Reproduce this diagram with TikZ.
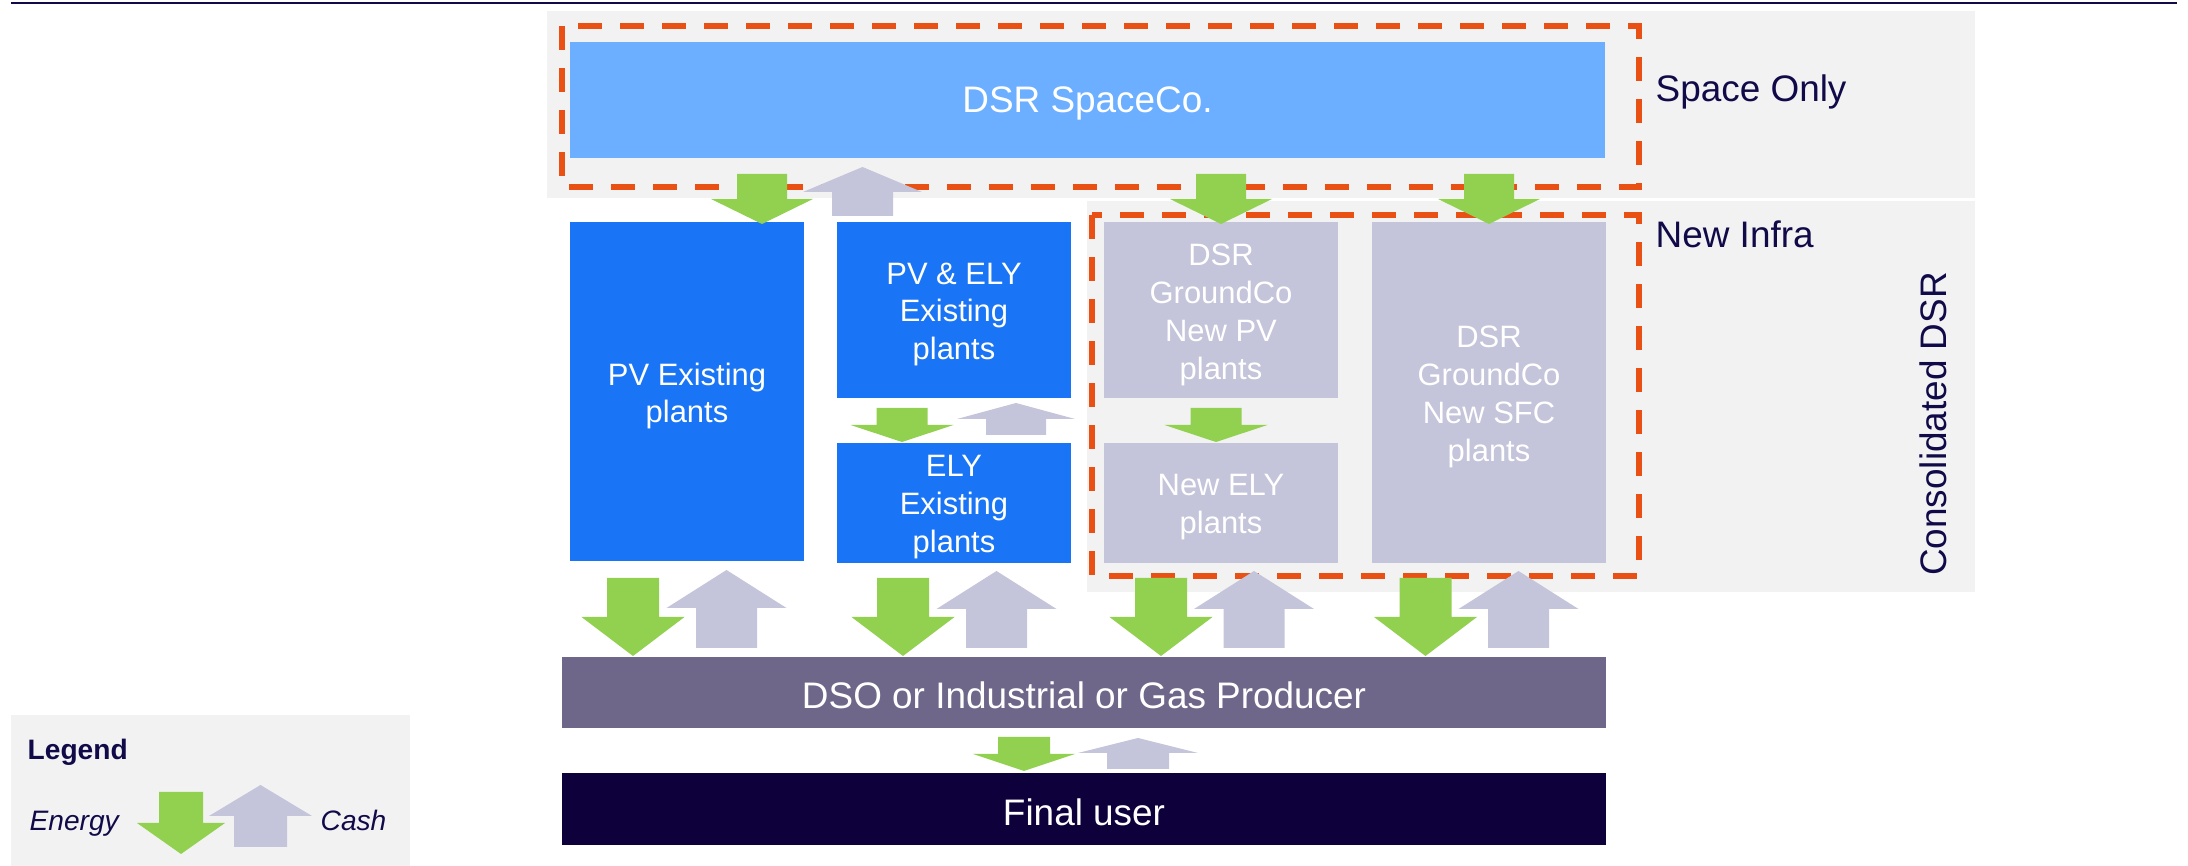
\documentclass[tikz,border=0pt]{standalone}
\usepackage{fontspec}
\setmainfont{Liberation Sans}
\definecolor{navy}{RGB}{16,10,72}
\definecolor{bandgray}{RGB}{242,242,242}
\definecolor{spaceblue}{RGB}{108,174,255}
\definecolor{plantblue}{RGB}{25,117,245}
\definecolor{lavender}{RGB}{196,196,218}
\definecolor{dsopurple}{RGB}{111,103,138}
\definecolor{finalnavy}{RGB}{14,0,58}
\definecolor{energygreen}{RGB}{146,208,80}
\definecolor{dashorange}{RGB}{232,80,20}

% block arrows: #1 x centre, #2 tail y, #3 tip y, #4 shaft half width, #5 head half width, #6 head length
\newcommand{\energyflow}[6]{%
  \fill[energygreen] (#1-#4,#2) -- (#1+#4,#2) -- (#1+#4,#3-#6) -- (#1+#5,#3-#6)
    -- (#1,#3) -- (#1-#5,#3-#6) -- (#1-#4,#3-#6) -- cycle;}
\newcommand{\cashflow}[6]{%
  \fill[lavender] (#1-#4,#2) -- (#1+#4,#2) -- (#1+#4,#3+#6) -- (#1+#5,#3+#6)
    -- (#1,#3) -- (#1-#5,#3+#6) -- (#1-#4,#3+#6) -- cycle;}

\begin{document}
\begin{tikzpicture}[x=0.1mm,y=-0.1mm,
  bigtext/.style={font=\fontsize{10.5}{12.6}\selectfont},
  boxtext/.style={font=\fontsize{8.8}{10.8}\selectfont},
  plantbox/.style={rectangle,inner sep=0pt,minimum width=23.4mm},
  planttext/.style={inner sep=0pt,text=white,align=center,boxtext,yshift=-0.45mm},
  widebox/.style={rectangle,inner sep=0pt},
  widetext/.style={inner sep=0pt,text=white,bigtext,yshift=-0.3mm},
  band/.style={fill=bandgray},
  scopebox/.style={draw=dashorange,line width=0.6mm,dash pattern=on 2.4mm off 1.8mm},
  bandlabel/.style={inner sep=0pt,text=navy,bigtext},
  legendtext/.style={inner sep=0pt,text=navy}
]
\useasboundingbox (0,0) rectangle (2188,866);

% header rule
\draw[navy,line width=0.2mm] (11,3) -- (2177,3);

% background bands
\fill[band] (547,11) rectangle (1975,198);
\fill[band] (1087,201) rectangle (1975,592);
\fill[band] (11,715) rectangle (410,866);

% dashed scope frames
\draw[scopebox] (562,26) rectangle (1639,187);
\draw[scopebox] (1092,215) rectangle (1639,576);

% entities
\node[widebox,fill=spaceblue,minimum width=103.5mm,minimum height=11.6mm] (space) at (1087.5,100) {};
\node[widetext] (space-t) at (space.center) {DSR SpaceCo.};

\node[plantbox,fill=plantblue,minimum height=33.9mm] (pv) at (687,391.5) {};
\node[planttext] (pv-t) at (pv.center) {PV Existing\\plants};
\node[plantbox,fill=plantblue,minimum height=17.6mm] (pvely) at (954,310) {};
\node[planttext] (pvely-t) at (pvely.center) {PV \& ELY\\Existing\\plants};
\node[plantbox,fill=plantblue,minimum height=12mm] (ely) at (954,503) {};
\node[planttext] (ely-t) at (ely.center) {ELY\\Existing\\plants};
\node[plantbox,fill=lavender,minimum height=17.6mm] (gcpv) at (1221,310) {};
\node[planttext] (gcpv-t) at (gcpv.center) {DSR\\GroundCo\\New PV\\plants};
\node[plantbox,fill=lavender,minimum height=12mm] (newely) at (1221,503) {};
\node[planttext] (newely-t) at (newely.center) {New ELY\\plants};
\node[plantbox,fill=lavender,minimum height=34.1mm] (sfc) at (1489,392.5) {};
\node[planttext] (sfc-t) at (sfc.center) {DSR\\GroundCo\\New SFC\\plants};

\node[widebox,fill=dsopurple,minimum width=104.4mm,minimum height=7.1mm] (dso) at (1084,692.5) {};
\node[widetext] (dso-t) at (dso.center) {DSO or Industrial or Gas Producer};
\node[widebox,fill=finalnavy,minimum width=104.4mm,minimum height=7.2mm] (final) at (1084,809) {};
\node[widetext] (final-t) at (final.center) {Final user};

% band labels
\node[bandlabel,anchor=base west] (spaceonly) at (1655,102) {Space Only};
\node[bandlabel,anchor=base west] (newinfra) at (1655,248) {New Infra};
\node[bandlabel,rotate=90] (consol) at (1933,424) {Consolidated DSR};

% flows from the space company
\energyflow{762}{174}{224}{25}{51}{25}
\cashflow{862.5}{216}{167}{30.5}{59.5}{25}
\energyflow{1221}{174}{224}{25}{51}{25}
\energyflow{1489}{174}{224}{25}{51}{25}

% flows inside the plant column
\energyflow{902}{408}{442}{25.5}{51.5}{17}
\cashflow{1016}{435}{403}{30}{59}{16}
\energyflow{1216}{408}{442}{25.5}{51.5}{17}

% flows to the off-taker
\energyflow{633}{578}{656}{26}{51.5}{39}
\cashflow{726.5}{648}{570}{30.5}{60}{38}
\energyflow{903}{578}{656}{26}{51.5}{39}
\cashflow{996.5}{648}{571}{30.5}{60}{38}
\energyflow{1161}{578}{656}{26}{51.5}{39}
\cashflow{1254}{648}{571}{30.5}{60}{38}
\energyflow{1425.5}{578}{656}{26}{51.5}{39}
\cashflow{1518.5}{648}{571}{30.5}{60}{38}

% flows to the final user
\energyflow{1024}{737}{771}{26}{51}{17}
\cashflow{1138}{769}{738}{31}{60}{15}

% legend
\node[legendtext,anchor=base west,font=\fontsize{8}{9.6}\selectfont\bfseries] (legendtitle) at (27,760) {Legend};
\node[legendtext,anchor=base west,font=\fontsize{8}{9.6}\selectfont\itshape] (legenergy) at (29,831) {Energy};
\energyflow{181}{792}{854}{22}{44}{31}
\cashflow{260.5}{847}{785}{26.5}{51.5}{31}
\node[legendtext,anchor=base west,font=\fontsize{8}{9.6}\selectfont\itshape] (legcash) at (320,831) {Cash};
\end{tikzpicture}
\end{document}
